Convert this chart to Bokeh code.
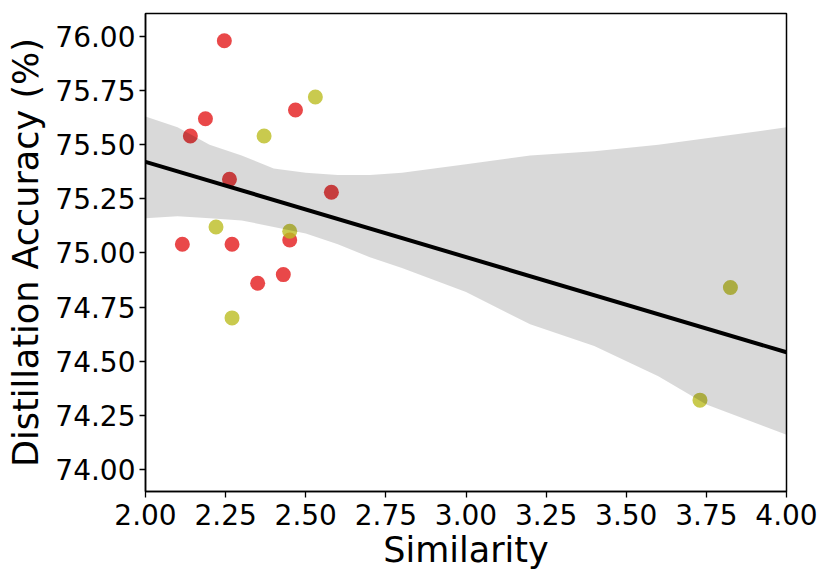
import numpy as np
from bokeh.plotting import figure
from bokeh.models import FixedTicker, PrintfTickFormatter, ColumnDataSource
from bokeh.embed import file_html
from bokeh.resources import INLINE

# ---- data ----
red_x = [2.246, 2.187, 2.140, 2.468, 2.262, 2.580, 2.115, 2.270, 2.450, 2.430, 2.350]
red_y = [75.98, 75.62, 75.54, 75.66, 75.34, 75.28, 75.04, 75.04, 75.06, 74.90, 74.86]
yel_x = [2.530, 2.370, 2.220, 2.450, 2.270, 3.825, 3.730]
yel_y = [75.72, 75.54, 75.12, 75.10, 74.70, 74.84, 74.32]

# confidence band boundaries (bootstrap band as seen in the picture)
band_x = [2.00, 2.10, 2.20, 2.30, 2.40, 2.50, 2.60, 2.70, 2.80, 3.00, 3.20, 3.40, 3.60, 3.75, 4.00]
band_upper = [75.63, 75.58, 75.50, 75.45, 75.39, 75.37, 75.36, 75.36, 75.37, 75.41, 75.45, 75.47, 75.50, 75.53, 75.58]
band_lower = [75.16, 75.17, 75.16, 75.15, 75.12, 75.09, 75.04, 74.98, 74.93, 74.82, 74.67, 74.57, 74.43, 74.30, 74.16]

x_ticks = [2.00, 2.25, 2.50, 2.75, 3.00, 3.25, 3.50, 3.75, 4.00]
y_ticks = [74.00, 74.25, 74.50, 74.75, 75.00, 75.25, 75.50, 75.75, 76.00]

x_label = "Similarity"
y_label = "Distillation Accuracy (%)"

# regression line fitted on all points
all_x = np.array(red_x + yel_x)
all_y = np.array(red_y + yel_y)
slope, intercept = np.polyfit(all_x, all_y, 1)
fit_x = np.array([2.0, 4.0])
fit_y = slope * fit_x + intercept

FONT = "DejaVu Sans"

p = figure(width=822, height=577, x_range=(2.0, 4.0), y_range=(73.898, 76.106),
           output_backend="svg", toolbar_location=None,
           min_border_left=145, min_border_right=36, min_border_top=13, min_border_bottom=86)

p.scatter(red_x, red_y, size=15, fill_color="#e41a1c", fill_alpha=0.8, line_color=None)
p.scatter(yel_x, yel_y, size=15, fill_color="#bcbd22", fill_alpha=0.8, line_color=None)

band_src = ColumnDataSource(dict(x=band_x, lo=band_lower, hi=band_upper))
p.varea(x="x", y1="lo", y2="hi", source=band_src, fill_color="black", fill_alpha=0.15)

p.line(fit_x, fit_y, line_color="black", line_width=4)

p.xgrid.visible = False
p.ygrid.visible = False
p.outline_line_color = "black"
p.outline_line_width = 1.5
p.outline_line_alpha = 1.0

for ax, ticks in ((p.xaxis[0], x_ticks), (p.yaxis[0], y_ticks)):
    ax.ticker = FixedTicker(ticks=ticks)
    ax.formatter = PrintfTickFormatter(format="%.2f")
    ax.minor_tick_line_color = None
    ax.major_tick_in = 0
    ax.major_tick_out = 6
    ax.major_tick_line_width = 1.3
    ax.axis_line_width = 1.5
    ax.major_label_text_font = FONT
    ax.major_label_text_font_size = "28px"
    ax.major_label_text_color = "black"
    ax.axis_label_text_font = FONT
    ax.axis_label_text_font_size = "35px"
    ax.axis_label_text_font_style = "normal"
    ax.axis_label_text_color = "black"

p.xaxis.axis_label = x_label
p.yaxis.axis_label = y_label
p.xaxis.major_label_standoff = 6
p.yaxis.major_label_standoff = 4
p.xaxis.axis_label_standoff = 2
p.yaxis.axis_label_standoff = 6

open("out.html", "w").write(file_html(p, INLINE))
